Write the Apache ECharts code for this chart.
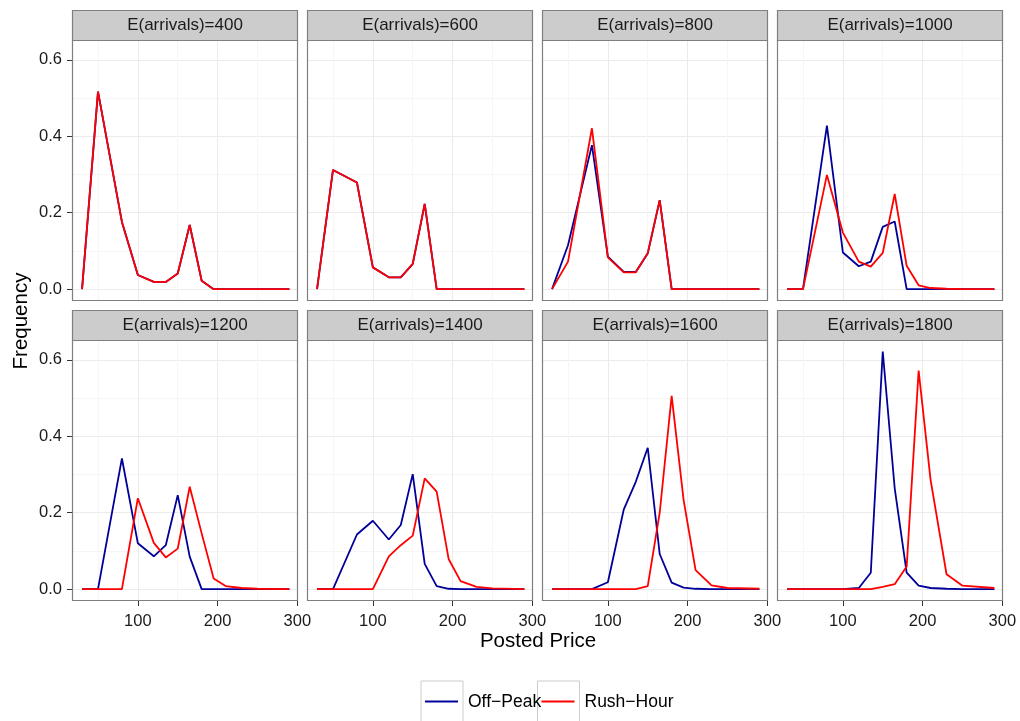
<!DOCTYPE html>
<html>
<head>
<meta charset="utf-8">
<script src="https://cdn.jsdelivr.net/npm/echarts@6/dist/echarts.min.js"></script>
<style>
  html, body { margin: 0; padding: 0; background: #ffffff; }
  #chart { width: 1020px; height: 721px; }
</style>
</head>
<body>
<div id="chart"></div>
<script>
// Posted price grid shared by every panel
const prices = [30, 50, 80, 100, 120, 135, 150, 165, 180, 195, 210, 230, 250, 290];

// Panel labels
const arrivals = [400, 600, 800, 1000, 1200, 1400, 1600, 1800];

// Frequency of each posted price, per expected arrivals
const offPeak400  = [0, 0.517, 0.176, 0.037, 0.019, 0.019, 0.041, 0.168, 0.022, 0, 0, 0, 0, 0];
const rushHour400 = [0, 0.517, 0.176, 0.037, 0.019, 0.019, 0.041, 0.168, 0.022, 0, 0, 0, 0, 0];

const offPeak600  = [0, 0.312, 0.279, 0.057, 0.031, 0.031, 0.066, 0.223, 0, 0, 0, 0, 0, 0];
const rushHour600 = [0, 0.312, 0.279, 0.057, 0.031, 0.031, 0.066, 0.223, 0, 0, 0, 0, 0, 0];

const offPeak800  = [0, 0.115, 0.377, 0.085, 0.045, 0.045, 0.093, 0.233, 0, 0, 0, 0, 0, 0];
const rushHour800 = [0, 0.072, 0.421, 0.083, 0.044, 0.044, 0.095, 0.233, 0, 0, 0, 0, 0, 0];

const offPeak1000  = [0, 0, 0.428, 0.096, 0.060, 0.072, 0.163, 0.177, 0, 0, 0, 0, 0, 0];
const rushHour1000 = [0, 0, 0.299, 0.148, 0.072, 0.059, 0.095, 0.249, 0.061, 0.010, 0.003, 0.001, 0, 0];

const offPeak1200  = [0, 0, 0.342, 0.120, 0.086, 0.115, 0.246, 0.085, 0, 0, 0, 0, 0, 0];
const rushHour1200 = [0, 0, 0, 0.238, 0.121, 0.083, 0.106, 0.268, 0.146, 0.028, 0.008, 0.003, 0.001, 0];

const offPeak1400  = [0, 0, 0.143, 0.179, 0.130, 0.168, 0.301, 0.066, 0.008, 0.001, 0, 0, 0, 0];
const rushHour1400 = [0, 0, 0, 0, 0.086, 0.115, 0.140, 0.290, 0.255, 0.079, 0.021, 0.006, 0.002, 0];

const offPeak1600  = [0, 0, 0, 0.018, 0.209, 0.281, 0.370, 0.092, 0.017, 0.004, 0.001, 0, 0, 0];
const rushHour1600 = [0, 0, 0, 0, 0, 0, 0.008, 0.200, 0.506, 0.233, 0.050, 0.010, 0.003, 0.001];

const offPeak1800  = [0, 0, 0, 0, 0.003, 0.043, 0.622, 0.264, 0.043, 0.009, 0.003, 0.001, 0, 0];
const rushHour1800 = [0, 0, 0, 0, 0, 0, 0.006, 0.013, 0.059, 0.572, 0.286, 0.039, 0.009, 0.003];

// Axis ticks
const xTicks = [100, 200, 300];
const xMinorTicks = [50, 150, 250];
const yTicks = [0, 0.2, 0.4, 0.6];
const yMinorTicks = [0.1, 0.3, 0.5];

const seriesNames = ['Off\u2212Peak', 'Rush\u2212Hour'];

const offPeak = [offPeak400, offPeak600, offPeak800, offPeak1000, offPeak1200, offPeak1400, offPeak1600, offPeak1800];
const rushHour = [rushHour400, rushHour600, rushHour800, rushHour1000, rushHour1200, rushHour1400, rushHour1600, rushHour1800];

// Facet layout
const FONT = '"Liberation Sans", Arial, Helvetica, sans-serif';
const colLeft = [72, 307, 542, 777];
const panelW = 226;
const rowStripTop = [10, 310];
const stripH = 30;
const panelH = 261;
const X_MIN = 17.4, X_MAX = 300.8;
const Y_MIN = -0.031, Y_MAX = 0.652;
const BORDER = '#7f7f7f';
const MAJOR = '#ebebeb';
const MINOR = '#f6f6f6';
const TEXT = '#1a1a1a';

const grids = [], xAxes = [], yAxes = [], series = [], graphics = [];
const nPanels = arrivals.length;

arrivals.forEach((a, i) => {
  const col = i % 4, row = Math.floor(i / 4);
  const left = colLeft[col];
  const top = rowStripTop[row] + stripH;
  const isBottom = row === 1;
  const isLeft = col === 0;

  grids.push({
    left: left, top: top, width: panelW, height: panelH,
    show: true, borderWidth: 0, backgroundColor: '#ffffff'
  });

  // major x axis (carries the data)
  xAxes[i] = {
    type: 'value', gridIndex: i, min: X_MIN, max: X_MAX, position: 'bottom',
    axisLine: { show: false, onZero: false },
    axisTick: { show: isBottom, customValues: xTicks, length: 5, lineStyle: { color: '#333333', width: 1 } },
    axisLabel: {
      show: isBottom, customValues: xTicks, margin: 12, fontSize: 16.5,
      color: TEXT, fontFamily: FONT, showMinLabel: true, showMaxLabel: true, hideOverlap: false
    },
    splitLine: { show: true, lineStyle: { color: MAJOR, width: 1 } }
  };
  // minor x grid lines
  xAxes[nPanels + i] = {
    type: 'value', gridIndex: i, min: X_MIN, max: X_MAX, position: 'top',
    axisLine: { show: false, onZero: false },
    axisTick: { show: false, customValues: xMinorTicks },
    axisLabel: { show: false, customValues: xMinorTicks },
    splitLine: { show: true, lineStyle: { color: MINOR, width: 1 } }
  };

  yAxes[i] = {
    type: 'value', gridIndex: i, min: Y_MIN, max: Y_MAX, position: 'left',
    axisLine: { show: false, onZero: false },
    axisTick: { show: isLeft, customValues: yTicks, length: 5, lineStyle: { color: '#333333', width: 1 } },
    axisLabel: {
      show: isLeft, customValues: yTicks, margin: 10, fontSize: 16.5,
      color: TEXT, fontFamily: FONT, formatter: v => v.toFixed(1)
    },
    splitLine: { show: true, lineStyle: { color: MAJOR, width: 1 } }
  };
  yAxes[nPanels + i] = {
    type: 'value', gridIndex: i, min: Y_MIN, max: Y_MAX, position: 'right',
    axisLine: { show: false, onZero: false },
    axisTick: { show: false, customValues: yMinorTicks },
    axisLabel: { show: false, customValues: yMinorTicks },
    splitLine: { show: true, lineStyle: { color: MINOR, width: 1 } }
  };

  series.push({
    name: seriesNames[0], type: 'line', xAxisIndex: i, yAxisIndex: i,
    data: prices.map((p, k) => [p, offPeak[i][k]]),
    showSymbol: false, symbol: 'none', z: 3,
    lineStyle: { color: '#000099', width: 1.8 }, itemStyle: { color: '#000099' }
  });
  series.push({
    name: seriesNames[1], type: 'line', xAxisIndex: i, yAxisIndex: i,
    data: prices.map((p, k) => [p, rushHour[i][k]]),
    showSymbol: false, symbol: 'none', z: 4,
    lineStyle: { color: '#ff0000', width: 1.8 }, itemStyle: { color: '#ff0000' }
  });

  // panel frame
  graphics.push({
    type: 'rect', silent: true, z: 9,
    shape: { x: left + 0.5, y: top + 0.5, width: panelW - 1, height: panelH - 1 },
    style: { fill: null, stroke: BORDER, lineWidth: 1.2 }
  });
  // strip header
  graphics.push({
    type: 'rect', silent: true, z: 10,
    shape: { x: left + 0.5, y: rowStripTop[row] + 0.5, width: panelW - 1, height: stripH },
    style: { fill: '#cccccc', stroke: BORDER, lineWidth: 1.2 }
  });
  graphics.push({
    type: 'text', silent: true, z: 11,
    x: left + panelW / 2, y: rowStripTop[row] + stripH / 2 + 0.5,
    style: {
      text: 'E(arrivals)=' + a, fill: TEXT, fontSize: 17, fontFamily: FONT,
      align: 'center', verticalAlign: 'middle'
    }
  });
});

// axis titles
graphics.push({
  type: 'text', silent: true, x: 21, y: 321, rotation: Math.PI / 2,
  style: { text: 'Frequency', fill: '#000000', fontSize: 20.5, fontFamily: FONT, align: 'center', verticalAlign: 'middle' }
});
graphics.push({
  type: 'text', silent: true, x: 538, y: 641,
  style: { text: 'Posted Price', fill: '#000000', fontSize: 20.5, fontFamily: FONT, align: 'center', verticalAlign: 'middle' }
});

// legend keys: boxes first, then key lines and labels on top
const legendKeys = [
  { name: seriesNames[0], color: '#000099', boxX: 421, textX: 468 },
  { name: seriesNames[1], color: '#ff0000', boxX: 537.5, textX: 584.5 }
];
legendKeys.forEach(k => {
  graphics.push({
    type: 'rect', silent: true, z: 20,
    shape: { x: k.boxX, y: 681, width: 42, height: 50 },
    style: { fill: '#ffffff', stroke: '#cccccc', lineWidth: 1 }
  });
});
legendKeys.forEach(k => {
  graphics.push({
    type: 'line', silent: true, z: 21,
    shape: { x1: k.boxX + 4, y1: 701.5, x2: k.boxX + 37, y2: 701.5 },
    style: { stroke: k.color, lineWidth: 1.8 }
  });
  graphics.push({
    type: 'text', silent: true, z: 22, x: k.textX, y: 702,
    style: { text: k.name, fill: '#000000', fontSize: 17.5, fontFamily: FONT, align: 'left', verticalAlign: 'middle' }
  });
});

const chart = echarts.init(document.getElementById('chart'), null, { renderer: 'canvas' });
chart.setOption({
  animation: false,
  backgroundColor: '#ffffff',
  grid: grids,
  xAxis: xAxes,
  yAxis: yAxes,
  series: series,
  graphic: graphics
});
</script>
</body>
</html>
